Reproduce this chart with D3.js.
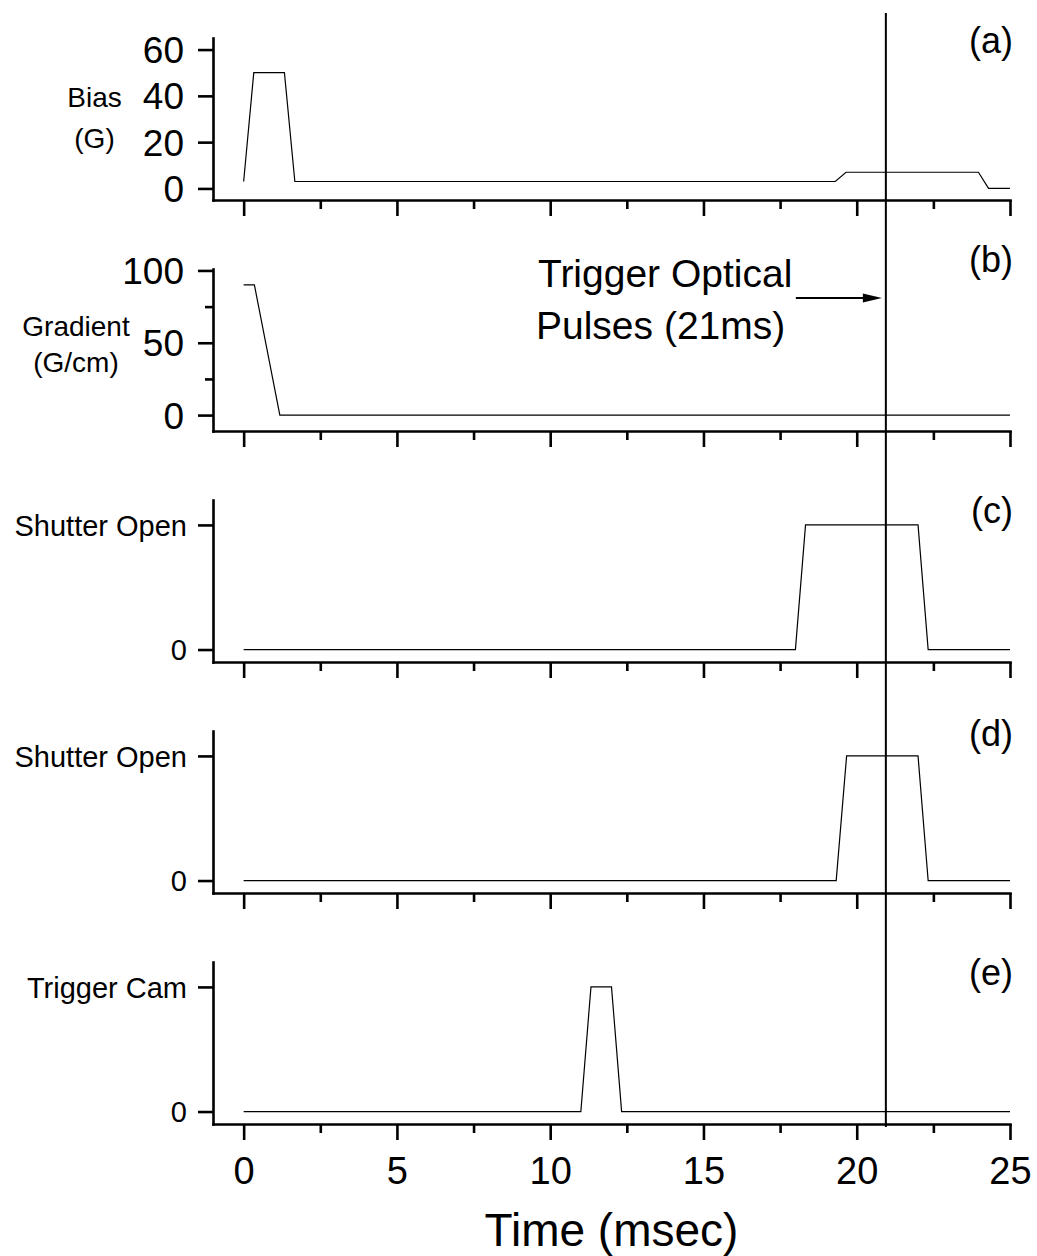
<!DOCTYPE html>
<html>
<head>
<meta charset="utf-8">
<script src="https://cdn.jsdelivr.net/npm/d3@7"></script>
<style>
  html, body { margin: 0; padding: 0; background: #fff; }
  svg { display: block; }
  text { font-family: "Liberation Sans", Arial, sans-serif; fill: #000; }
</style>
</head>
<body>
<svg id="chart" width="1037" height="1256"></svg>
<script>
// ---- Data ----
const xMajorTicks = [0, 5, 10, 15, 20, 25];
const xMinorTicks = [2.5, 7.5, 12.5, 17.5, 22.5];
const triggerTime = 20.95;

// (a) Bias field (G)
const timeA = [0, 0.33, 1.33, 1.67, 19.3, 19.65, 23.97, 24.3, 25];
const biasA = [3, 50, 50, 3, 3, 7, 7, 0, 0];
const ticksA = [0, 20, 40, 60];

// (b) Gradient (G/cm)
const timeB = [0, 0.35, 1.18, 25];
const gradientB = [90, 90, 0, 0];
const ticksB = [0, 50, 100];
const minorTicksB = [25, 75];

// (c) Shutter
const timeC = [0, 18, 18.33, 22, 22.33, 25];
const shutterC = [0, 0, 1, 1, 0, 0];

// (d) Shutter
const timeD = [0, 19.33, 19.67, 22, 22.33, 25];
const shutterD = [0, 0, 1, 1, 0, 0];

// (e) Camera trigger
const timeE = [0, 11, 11.33, 12, 12.33, 25];
const camE = [0, 0, 1, 1, 0, 0];

const panelLabels = ["(a)", "(b)", "(c)", "(d)", "(e)"];

// ---- Layout ----
const svg = d3.select("#chart");
const left = 213, right = 1010;
const firstTop = 38, panelH = 162, panelStep = 231;

const x = d3.scaleLinear().domain([-1, 25]).range([left, right]);

const panels = [
  { t: timeA, v: biasA, dom: [-5, 65], ticks: ticksA, minor: [], fmt: d => d, fs: 37, pad: 14,
    ylab: ["Bias", "(G)"], ylabX: 94.5, ylabY: [107, 148], labBase: 53 },
  { t: timeB, v: gradientB, dom: [-11, 101], ticks: ticksB, minor: minorTicksB, fmt: d => d, fs: 37, pad: 14,
    ylab: ["Gradient", "(G/cm)"], ylabX: 76, ylabY: [336, 372], labBase: 272 },
  { t: timeC, v: shutterC, dom: [-0.1, 1.2], ticks: [0, 1], minor: [], fmt: d => d === 1 ? "Shutter Open" : "0", fs: 29, pad: 11,
    ylab: null, labBase: 523 },
  { t: timeD, v: shutterD, dom: [-0.1, 1.2], ticks: [0, 1], minor: [], fmt: d => d === 1 ? "Shutter Open" : "0", fs: 29, pad: 11,
    ylab: null, labBase: 746 },
  { t: timeE, v: camE, dom: [-0.1, 1.2], ticks: [0, 1], minor: [], fmt: d => d === 1 ? "Trigger Cam" : "0", fs: 29, pad: 11,
    ylab: null, labBase: 985 }
];

const axisW = 2.6;

panels.forEach((p, i) => {
  const top = firstTop + i * panelStep;
  const bottom = top + panelH;
  const y = d3.scaleLinear().domain(p.dom).range([bottom, top]);
  const g = svg.append("g");

  // data line
  const pts = p.t.map((t, k) => [t, p.v[k]]);
  g.append("path")
    .datum(pts)
    .attr("fill", "none")
    .attr("stroke", "#000")
    .attr("stroke-width", 1.2)
    .attr("d", d3.line().x(d => x(d[0])).y(d => y(d[1])));

  // y axis
  const ya = g.append("g").attr("transform", `translate(${left},0)`)
    .call(d3.axisLeft(y).tickValues(p.ticks).tickFormat(p.fmt).tickSize(15).tickSizeOuter(0).tickPadding(p.pad));
  ya.select(".domain").attr("stroke-width", axisW).attr("stroke-linecap", "square");
  ya.selectAll(".tick line").attr("stroke-width", axisW);
  ya.selectAll(".tick text").attr("font-size", p.fs).attr("dy", "0.35em")
    .style("font-family", '"Liberation Sans", Arial, sans-serif');

  if (p.minor.length) {
    const ym = g.append("g").attr("transform", `translate(${left},0)`)
      .call(d3.axisLeft(y).tickValues(p.minor).tickFormat("").tickSize(8).tickSizeOuter(0));
    ym.select(".domain").remove();
    ym.selectAll(".tick line").attr("stroke-width", axisW);
  }

  // x axis
  const xa = g.append("g").attr("transform", `translate(0,${bottom})`)
    .call(d3.axisBottom(x).tickValues(xMajorTicks).tickSize(16).tickSizeOuter(0).tickPadding(17)
      .tickFormat(i === panels.length - 1 ? d => d : ""));
  xa.select(".domain").attr("stroke-width", axisW).attr("stroke-linecap", "square");
  xa.selectAll(".tick line").attr("stroke-width", axisW);
  xa.selectAll(".tick text").attr("font-size", 38)
    .style("font-family", '"Liberation Sans", Arial, sans-serif');

  const xm = g.append("g").attr("transform", `translate(0,${bottom})`)
    .call(d3.axisBottom(x).tickValues(xMinorTicks).tickSize(9).tickSizeOuter(0).tickFormat(""));
  xm.select(".domain").remove();
  xm.selectAll(".tick line").attr("stroke-width", axisW);

  // y label (two lines)
  if (p.ylab) {
    p.ylab.forEach((s, k) => {
      g.append("text").attr("x", p.ylabX).attr("y", p.ylabY[k])
        .attr("text-anchor", "middle").attr("font-size", 28).text(s);
    });
  }

  // panel label
  g.append("text").attr("x", 1013).attr("y", p.labBase)
    .attr("text-anchor", "end").attr("font-size", 36).text(panelLabels[i]);
});

// vertical trigger line
svg.append("line")
  .attr("x1", x(triggerTime)).attr("x2", x(triggerTime))
  .attr("y1", 13).attr("y2", 1127)
  .attr("stroke", "#000").attr("stroke-width", 2);

// annotation
const ann = svg.append("g");
ann.append("text").attr("x", 538).attr("y", 287).attr("font-size", 39).text("Trigger Optical");
ann.append("text").attr("x", 536).attr("y", 339).attr("font-size", 39).text("Pulses (21ms)");

const arrowEnd = x(triggerTime) - 4, arrowStart = arrowEnd - 86, arrowY = 298;
ann.append("line")
  .attr("x1", arrowStart).attr("x2", arrowEnd - 16)
  .attr("y1", arrowY).attr("y2", arrowY)
  .attr("stroke", "#000").attr("stroke-width", 2);
ann.append("path")
  .attr("d", `M${arrowEnd},${arrowY} L${arrowEnd - 19},${arrowY - 4.5} L${arrowEnd - 19},${arrowY + 4.5} Z`)
  .attr("fill", "#000");

// x axis title
svg.append("text").attr("x", (left + right) / 2).attr("y", 1246)
  .attr("text-anchor", "middle").attr("font-size", 46).text("Time (msec)");
</script>
</body>
</html>
